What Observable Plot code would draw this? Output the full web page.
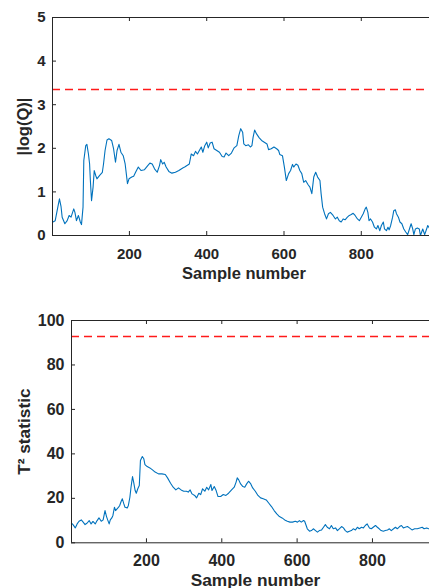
<!DOCTYPE html>
<html><head><meta charset="utf-8">
<script src="https://cdn.jsdelivr.net/npm/d3@7"></script>
<script src="https://cdn.jsdelivr.net/npm/@observablehq/plot@0.6"></script>
<style>
html,body{margin:0;padding:0;background:#fff;overflow:hidden;width:429px;height:588px;}
.panel{position:absolute;left:0;width:429px;overflow:hidden;}
.panel svg{max-width:none !important;}
</style></head><body>
<div id="top" class="panel" style="top:0;height:290px"></div>
<div id="bot" class="panel" style="top:300px;height:288px"></div>
<script>
// ---- Data: |log(Q)| ----
const qSamples = [2,8,13,19,23,26,33,39,44,49,56,59,63,68,73,76,80,82,87,90,94,97,99,102,106,109,113,116,123,130,133,137,142,147,154,159,164,168,173,178,184,189,195,199,206,211,216,223,230,239,248,253,259,265,272,278,281,286,290,295,302,310,319,328,338,343,350,355,360,366,371,376,381,386,390,395,400,404,409,414,419,426,433,440,445,450,457,464,471,478,483,488,493,496,501,508,513,517,520,524,529,536,542,549,556,560,567,574,581,586,589,596,601,606,612,617,622,625,631,636,641,646,651,656,662,667,672,677,682,687,693,696,700,705,710,715,720,727,733,738,743,748,753,758,764,769,774,779,784,790,795,800,805,810,813,817,820,824,829,834,839,843,848,852,857,860,865,869,872,876,881,884,888,891,896,900,905,910,915,920,926,929,933,936,940,945,950,953,959,964,969,972,976];
const qValues = [0.31,0.34,0.57,0.84,0.67,0.42,0.27,0.34,0.46,0.42,0.61,0.53,0.34,0.46,0.31,0.25,0.65,1.72,2.06,2.09,1.87,1.64,1.26,0.80,1.11,1.49,1.37,1.30,1.38,1.45,1.64,1.95,2.19,2.22,2.18,1.99,1.68,1.95,2.09,1.91,1.83,1.64,1.19,1.30,1.34,1.36,1.45,1.57,1.49,1.51,1.61,1.66,1.64,1.53,1.45,1.61,1.74,1.64,1.68,1.57,1.47,1.43,1.45,1.49,1.55,1.57,1.61,1.64,1.87,1.83,1.93,1.87,1.95,2.03,1.91,2.06,2.14,2.01,2.12,2.14,1.99,1.95,1.91,1.81,1.80,1.89,1.83,1.89,2.01,2.06,2.29,2.45,2.37,2.10,2.06,2.08,2.03,2.06,2.25,2.42,2.33,2.24,2.18,2.14,2.10,1.97,1.99,2.03,1.99,1.95,1.86,1.83,1.57,1.26,1.42,1.49,1.63,1.57,1.64,1.61,1.49,1.42,1.22,1.26,1.17,1.11,0.96,1.34,1.45,1.34,1.26,0.96,0.65,0.50,0.38,0.50,0.53,0.46,0.38,0.42,0.34,0.31,0.38,0.36,0.42,0.46,0.48,0.51,0.46,0.38,0.34,0.42,0.50,0.61,0.65,0.53,0.34,0.38,0.31,0.19,0.15,0.23,0.11,0.23,0.31,0.15,0.11,0.19,0.13,0.23,0.42,0.57,0.59,0.50,0.42,0.31,0.27,0.15,0.08,0.02,0.19,0.27,0.15,0.02,0.15,0.17,0.15,0.00,0.15,0.02,0.15,0.23,0.17];
const qLimit = 3.35;
const qYTicks = [0,1,2,3,4,5];

// ---- Data: T^2 statistic ----
const tSamples = [1,5,11,16,21,27,32,37,42,48,53,58,64,69,74,80,85,90,94,97,101,104,108,111,115,118,122,126,129,133,136,140,143,149,152,156,159,163,166,170,173,177,181,184,189,193,196,202,209,216,223,232,241,250,256,264,271,278,285,292,299,306,311,316,321,328,333,339,344,349,355,360,365,371,374,380,385,390,397,404,411,418,426,433,438,441,445,450,456,461,466,471,477,482,489,496,503,510,518,525,532,539,546,553,560,567,574,581,588,595,601,606,611,617,620,624,627,633,638,643,649,654,659,665,670,675,680,686,691,696,702,707,712,718,723,728,733,739,744,749,755,760,765,771,776,781,786,792,797,802,808,813,818,823,829,834,840,845,850,856,861,866,872,877,882,887,893,898,905,912,919,926,932,937,944,949];
const tValues = [8.8,8.2,6.7,8.5,9.7,10.3,9.3,8.2,8.8,10.0,8.5,9.6,8.5,10.0,11.2,9.7,10.3,14.5,11.8,10.3,8.5,10.3,11.2,12.3,16.0,14.5,15.3,16.0,16.8,18.7,19.8,17.5,16.0,15.7,16.8,20.5,25.0,29.8,27.3,23.5,22.3,24.3,25.8,37.0,38.8,37.8,35.2,34.3,33.7,32.8,31.8,31.0,31.0,30.7,29.2,26.8,25.0,23.8,24.7,23.8,23.2,23.2,22.8,23.8,22.0,21.3,20.2,22.3,21.7,24.3,23.2,25.0,23.8,26.2,23.5,25.3,23.5,20.8,20.8,21.7,21.3,22.3,23.8,25.0,27.3,29.2,28.3,26.5,25.3,25.0,26.5,27.7,26.5,24.7,23.2,21.3,20.2,19.8,19.3,17.8,16.3,14.5,13.0,11.8,11.2,10.3,9.7,9.3,9.3,9.7,9.3,10.0,9.3,10.0,9.7,7.8,6.3,5.2,5.5,6.3,5.5,4.8,5.5,5.8,7.0,8.2,7.0,6.3,7.8,6.3,6.7,5.5,6.3,7.3,6.7,5.5,4.8,5.2,5.5,6.3,5.8,7.0,6.3,7.0,6.7,7.8,8.5,6.7,6.3,7.0,7.8,7.0,6.3,5.5,5.2,5.5,5.8,6.3,5.5,6.3,7.0,6.3,7.3,7.8,6.7,7.0,7.3,6.7,5.8,6.3,6.3,6.7,7.0,6.3,6.7,6.3];
const tLimit = 92.8;
const tYTicks = [0,20,40,60,80,100];

const xTicks = [200,400,600,800];
const xLabel = "Sample number";

const AX = "#262626";
const FONT = "'Liberation Sans', Arial, Helvetica, sans-serif";

function panel(o) {
  const data = o.xs.map((x, i) => ({x, y: o.ys[i]}));
  const frameW = o.width - o.marginLeft;
  const frameH = o.height - o.marginTop - o.marginBottom;
  return Plot.plot({
    width: o.width, height: o.height,
    marginTop: o.marginTop, marginBottom: o.marginBottom, marginLeft: o.marginLeft, marginRight: 0,
    style: `font-family:${FONT};font-weight:bold;color:${AX};background:#fff;overflow:visible;max-width:none;width:${o.width}px;height:${o.height}px;`,
    x: {domain: o.xDomain},
    y: {domain: o.yDomain},
    marks: [
      Plot.ruleY([o.limit], {stroke: "#ff1a1a", strokeWidth: 1.4, strokeDasharray: "8,5"}),
      Plot.line(data, {x: "x", y: "y", stroke: "#0072BD", strokeWidth: 1.1}),
      Plot.ruleY([o.yDomain[0], o.yDomain[1]], {stroke: AX, strokeWidth: 1}),
      Plot.ruleX([o.xDomain[0]], {stroke: AX, strokeWidth: 1}),
      Plot.tickX(xTicks, {x: d => d, insetTop: frameH - 4, stroke: AX}),
      Plot.tickX(xTicks, {x: d => d, insetBottom: frameH - 4, stroke: AX}),
      Plot.tickY(o.yTicks, {y: d => d, insetRight: frameW - 4, stroke: AX}),
      Plot.axisX(xTicks, {tickSize: 0, tickPadding: o.xPad, fontSize: o.tickFont, fontWeight: "bold", label: null, tickFormat: d => String(d)}),
      Plot.axisY(o.yTicks, {tickSize: 0, tickPadding: 7, fontSize: o.tickFont, fontWeight: "bold", label: null, tickFormat: d => String(d)}),
      Plot.text([xLabel], {text: d => d, frameAnchor: "bottom", textAnchor: "middle", lineAnchor: "top", dy: o.xLabelDy, fontSize: o.labelFont, fontWeight: "bold", fill: AX}),
      Plot.text([o.yLabel], {text: d => d, frameAnchor: "left", textAnchor: "middle", lineAnchor: "middle", rotate: -90, dx: o.yLabelDx, fontSize: o.labelFont, fontWeight: "bold", fill: AX})
    ]
  });
}

document.getElementById("top").append(panel({
  xs: qSamples, ys: qValues, limit: qLimit, yDomain: [0, 5], yTicks: qYTicks,
  xDomain: [1, 992], width: 435, height: 290, marginTop: 17, marginBottom: 55, marginLeft: 52,
  xPad: 12.6, xLabelDy: 31.6, yLabel: "|log(Q)|", yLabelDx: -28.5, tickFont: 15, labelFont: 16.5
}));

document.getElementById("bot").append(panel({
  xs: tSamples, ys: tValues, limit: tLimit, yDomain: [0, 100], yTicks: tYTicks,
  xDomain: [1, 978], width: 439, height: 288, marginTop: 20, marginBottom: 45.7, marginLeft: 71,
  xPad: 12, xLabelDy: 31, yLabel: "T² statistic", yLabelDx: -47, tickFont: 16, labelFont: 17.3
}));
</script>
</body></html>
